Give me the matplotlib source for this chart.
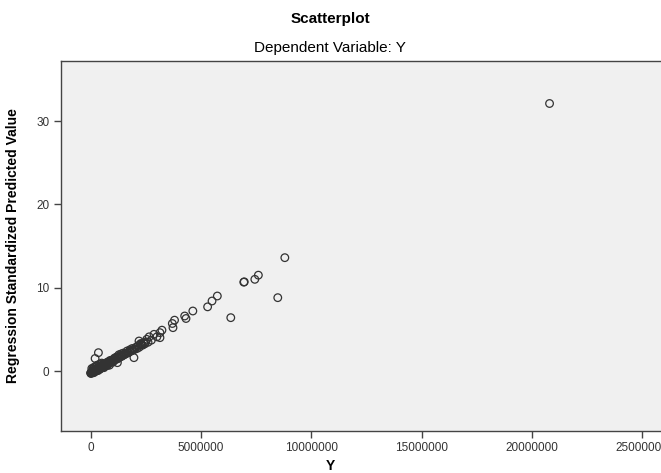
import numpy as np
import matplotlib.pyplot as plt

plt.rcParams['font.family'] = ['Liberation Sans', 'DejaVu Sans']

y_obs_m = [0.00, 0.01, 0.02, 0.03, 0.04, 0.05, 0.06, 0.08, 0.09, 0.10,
           0.12, 0.13, 0.15, 0.16, 0.18, 0.20, 0.21, 0.22, 0.25, 0.26,
           0.28, 0.30, 0.31, 0.32, 0.35, 0.36, 0.38, 0.40, 0.41, 0.42,
           0.45, 0.46, 0.48, 0.50, 0.52, 0.55, 0.56, 0.58, 0.60, 0.62,
           0.65, 0.66, 0.68, 0.70, 0.72, 0.75, 0.78, 0.80, 0.85, 0.88,
           0.90, 0.95, 1.00, 1.05, 1.10, 1.15, 1.20, 1.21, 1.30, 1.35,
           1.40, 1.50, 1.55, 1.60, 1.70, 1.75, 1.80, 1.90, 1.96, 2.00,
           2.10, 2.19, 2.20, 2.27, 2.35, 2.45, 2.54, 2.60, 2.65, 2.75,
           2.87, 3.00, 3.14, 3.14, 3.23, 3.70, 3.73, 3.80, 4.26, 4.32,
           4.63, 5.30, 5.50, 5.74, 6.35, 6.94, 6.96, 7.44, 7.60, 8.48,
           8.80, 20.80, 0.35, 0.20, 0.05, 0.10, 0.15, 0.25, 0.30, 0.40,
           0.02, 0.07, 0.11, 0.14, 0.17, 0.23, 0.27, 0.33, 0.37, 0.43,
           0.47, 0.53, 0.57, 0.63, 0.67, 0.73, 0.77, 0.83, 0.87, 0.93,
           0.97, 1.03, 1.08, 1.13, 1.18, 1.25, 1.28, 1.33, 1.38, 1.45,
           1.48, 1.58, 1.65, 1.68, 1.78, 1.85, 1.88, 1.95, 2.05, 2.15,
           2.25, 2.30, 2.40, 2.50, 0.60, 0.85, 1.00, 1.25, 0.50, 0.75]
pred_std = [-0.25, -0.22, -0.20, -0.18, -0.15, -0.20, -0.10, -0.12, -0.05, -0.12,
            -0.15, 0.00, -0.05, 0.05, -0.10, 0.05, 0.10, -0.02, 0.10, 0.20,
            0.05, 0.20, 0.30, 0.12, 0.25, 0.35, 0.30, 0.20, 0.45, 0.40,
            0.35, 0.55, 0.50, 0.45, 0.55, 0.60, 0.75, 0.50, 0.70, 0.75,
            0.65, 0.90, 0.85, 0.80, 0.95, 0.90, 1.00, 1.10, 1.05, 1.20,
            1.15, 1.30, 1.25, 1.40, 1.50, 1.45, 1.60, 1.00, 1.70, 1.80,
            1.75, 1.95, 2.00, 2.10, 2.20, 2.30, 2.35, 2.50, 1.60, 2.60,
            2.70, 3.60, 2.85, 3.30, 3.10, 3.25, 3.80, 3.45, 4.10, 3.70,
            4.40, 4.10, 4.60, 4.00, 4.90, 5.70, 5.20, 6.10, 6.60, 6.30,
            7.20, 7.70, 8.40, 9.00, 6.40, 10.66, 10.70, 11.00, 11.50, 8.80,
            13.60, 32.10, 2.20, 1.50, 0.30, 0.25, 0.45, 0.60, 0.70, 0.80,
            -0.30, -0.05, 0.10, -0.20, 0.15, 0.00, 0.35, 0.05, 0.50, 0.25,
            0.60, 0.40, 0.85, 0.55, 0.95, 0.70, 1.05, 0.90, 1.25, 1.10,
            1.30, 1.20, 1.55, 1.35, 1.70, 1.55, 1.95, 1.70, 2.05, 1.85,
            2.15, 2.05, 2.40, 2.20, 2.55, 2.45, 2.70, 2.60, 2.85, 3.05,
            3.20, 3.15, 3.35, 3.50, 0.40, 0.70, 1.05, 1.50, 0.95, 0.65]

x_ticks = [0, 5000000, 10000000, 15000000, 20000000, 25000000]
y_ticks = [0, 10, 20, 30]

fig = plt.figure(figsize=(6.61, 4.73), dpi=100)
W, H = 661, 473
ax = fig.add_axes([60.5 / W, 1 - 431 / H, (700 - 60.5) / W, (431 - 61) / H])
ax.set_facecolor('#f0f0f0')

x_vals = np.array(y_obs_m) * 1e6
ax.scatter(x_vals, pred_std, s=30, facecolors='none', edgecolors='#333333',
           linewidths=0.9, zorder=3)

ax.set_xlim(-30.2 / 22.06 * 1e6, (700 - 90.7) / 22.06 * 1e6)
ax.set_ylim(-7.2, 37.2)
ax.set_xticks(x_ticks)
ax.set_xticklabels([str(v) for v in x_ticks])
ax.set_yticks(y_ticks)

for s in ax.spines.values():
    s.set_color('#444444')
    s.set_linewidth(1.0)
ax.tick_params(direction='out', length=5, width=1, color='#444444',
               labelsize=8.5, labelcolor='#333333', pad=3)

ax.set_ylabel('Regression Standardized Predicted Value', fontsize=10,
              fontweight='bold')
ax.yaxis.set_label_coords(-40 / (700 - 60.5), 0.5)
fig.text(330 / W, 1 - 466 / H, 'Y', fontsize=10, fontweight='bold',
         ha='center', va='center')

fig.text(330 / W, 1 - 18.5 / H, 'Scatterplot', fontsize=11, fontweight='bold',
         ha='center', va='center')
fig.text(330 / W, 1 - 48 / H, 'Dependent Variable: Y', fontsize=11,
         ha='center', va='center')

fig.savefig('out.png', dpi=100)
